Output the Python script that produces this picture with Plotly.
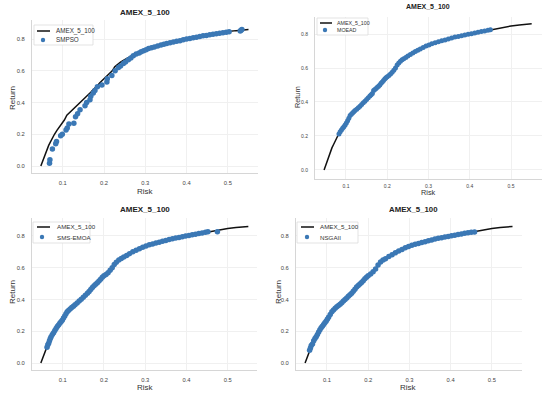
import plotly.graph_objects as go

# Efficient frontier (AMEX_5_100)
front_risk = [0.047,0.050,0.053,0.056,0.059,0.062,0.066,0.070,0.075,0.080,0.086,0.092,0.098,0.104,0.110,0.116,0.124,0.132,0.140,0.148,0.156,0.162,0.168,0.175,0.182,0.190,0.198,0.206,0.214,0.220,0.226,0.232,0.240,0.250,0.260,0.270,0.282,0.295,0.310,0.325,0.340,0.360,0.380,0.400,0.420,0.440,0.460,0.480,0.500,0.520,0.540,0.550]
front_ret = [0.0,0.02,0.04,0.07,0.09,0.11,0.13,0.15,0.18,0.20,0.225,0.245,0.265,0.29,0.32,0.335,0.355,0.37,0.39,0.41,0.43,0.445,0.465,0.485,0.50,0.525,0.545,0.56,0.58,0.60,0.625,0.64,0.655,0.67,0.685,0.70,0.715,0.73,0.745,0.755,0.765,0.78,0.79,0.80,0.81,0.82,0.83,0.84,0.847,0.853,0.858,0.86]

smpso_risk = [0.068,0.069,0.075,0.083,0.085,0.095,0.099,0.108,0.111,0.115,0.127,0.131,0.136,0.142,0.154,0.158,0.166,0.168,0.174,0.178,0.184,0.195,0.207,0.208,0.219,0.227,0.235,0.240,0.247,0.252,0.259,0.265,0.271,0.278,0.285,0.290,0.296,0.302,0.308,0.315,0.322,0.330,0.338,0.345,0.352,0.360,0.368,0.376,0.384,0.392,0.400,0.408,0.416,0.424,0.432,0.440,0.448,0.456,0.464,0.472,0.480,0.488,0.496,0.503,0.530,0.532,0.534]
smpso_ret = [0.017,0.04,0.107,0.14,0.154,0.19,0.20,0.227,0.24,0.265,0.27,0.31,0.33,0.354,0.38,0.40,0.417,0.44,0.46,0.476,0.50,0.51,0.53,0.55,0.57,0.60,0.62,0.63,0.646,0.655,0.67,0.68,0.695,0.705,0.712,0.72,0.727,0.733,0.74,0.745,0.75,0.756,0.762,0.767,0.772,0.777,0.782,0.786,0.79,0.795,0.80,0.804,0.808,0.812,0.816,0.82,0.823,0.827,0.83,0.833,0.837,0.84,0.843,0.846,0.85,0.855,0.86]

moead_risk = [0.083,0.086,0.089,0.092,0.095,0.098,0.101,0.104,0.107,0.110,0.113,0.116,0.119,0.122,0.126,0.130,0.134,0.138,0.142,0.146,0.150,0.154,0.158,0.161,0.164,0.167,0.170,0.173,0.176,0.179,0.182,0.185,0.188,0.191,0.194,0.197,0.200,0.204,0.208,0.212,0.216,0.220,0.224,0.228,0.232,0.236,0.240,0.245,0.250,0.256,0.262,0.268,0.274,0.280,0.287,0.294,0.301,0.308,0.316,0.324,0.332,0.340,0.348,0.356,0.364,0.372,0.380,0.388,0.396,0.404,0.412,0.420,0.428,0.436,0.444,0.450]
moead_ret = [0.212,0.225,0.235,0.245,0.255,0.265,0.277,0.29,0.305,0.32,0.328,0.335,0.343,0.35,0.358,0.366,0.375,0.385,0.395,0.405,0.415,0.425,0.435,0.443,0.45,0.468,0.474,0.48,0.487,0.493,0.50,0.51,0.518,0.527,0.535,0.542,0.549,0.556,0.564,0.575,0.587,0.60,0.617,0.629,0.64,0.648,0.655,0.662,0.67,0.679,0.688,0.697,0.705,0.712,0.721,0.729,0.736,0.743,0.749,0.754,0.76,0.765,0.771,0.777,0.782,0.786,0.79,0.794,0.798,0.802,0.806,0.81,0.814,0.818,0.822,0.825]

sms_risk = [0.062,0.064,0.066,0.068,0.070,0.072,0.075,0.078,0.081,0.084,0.087,0.090,0.093,0.096,0.099,0.102,0.105,0.108,0.111,0.114,0.118,0.122,0.126,0.130,0.135,0.140,0.145,0.150,0.155,0.160,0.164,0.168,0.172,0.176,0.180,0.184,0.188,0.192,0.196,0.200,0.205,0.210,0.215,0.220,0.225,0.230,0.236,0.242,0.248,0.255,0.262,0.270,0.278,0.286,0.294,0.302,0.310,0.318,0.326,0.334,0.342,0.350,0.358,0.366,0.374,0.382,0.390,0.398,0.406,0.414,0.422,0.430,0.438,0.446,0.452,0.475]
sms_ret = [0.10,0.115,0.125,0.14,0.155,0.165,0.18,0.19,0.205,0.218,0.23,0.24,0.25,0.26,0.27,0.283,0.296,0.31,0.322,0.33,0.34,0.35,0.358,0.367,0.378,0.39,0.402,0.414,0.427,0.44,0.451,0.463,0.476,0.487,0.496,0.506,0.517,0.528,0.54,0.549,0.558,0.568,0.584,0.60,0.62,0.635,0.648,0.658,0.667,0.677,0.688,0.70,0.71,0.72,0.729,0.737,0.744,0.75,0.756,0.761,0.767,0.772,0.778,0.783,0.787,0.791,0.795,0.799,0.803,0.807,0.811,0.815,0.819,0.823,0.826,0.826]

nsga_risk = [0.058,0.060,0.062,0.065,0.068,0.071,0.074,0.077,0.080,0.083,0.086,0.089,0.092,0.095,0.098,0.101,0.104,0.108,0.112,0.116,0.120,0.124,0.128,0.132,0.136,0.140,0.144,0.148,0.152,0.156,0.160,0.164,0.168,0.172,0.176,0.180,0.184,0.188,0.192,0.196,0.200,0.206,0.212,0.218,0.224,0.230,0.236,0.242,0.250,0.258,0.266,0.274,0.282,0.290,0.298,0.306,0.314,0.322,0.330,0.338,0.346,0.354,0.362,0.370,0.378,0.386,0.394,0.402,0.410,0.418,0.426,0.434,0.442,0.450,0.458]
nsga_ret = [0.08,0.095,0.11,0.12,0.14,0.155,0.165,0.18,0.195,0.21,0.222,0.232,0.243,0.253,0.263,0.275,0.288,0.305,0.322,0.334,0.345,0.354,0.362,0.37,0.38,0.39,0.40,0.41,0.42,0.43,0.44,0.452,0.465,0.478,0.488,0.497,0.507,0.518,0.53,0.54,0.549,0.56,0.574,0.592,0.617,0.636,0.648,0.657,0.67,0.682,0.694,0.705,0.715,0.725,0.733,0.741,0.748,0.753,0.758,0.764,0.77,0.775,0.781,0.785,0.789,0.793,0.797,0.801,0.805,0.809,0.813,0.817,0.82,0.823,0.825]

algo_names = ["SMPSO", "MOEAD", "SMS-EMOA", "NSGAII"]
algo_risk = [smpso_risk, moead_risk, sms_risk, nsga_risk]
algo_ret = [smpso_ret, moead_ret, sms_ret, nsga_ret]
title_text = "AMEX_5_100"
tick_vals_x = [0.1, 0.2, 0.3, 0.4, 0.5]
tick_vals_y = [0.0, 0.2, 0.4, 0.6, 0.8]

FONT = "Arial, Liberation Sans, sans-serif"
PT_COLOR = "#3b78b5"

W, H = 550, 395
def fx(px):
    return px / W
def fy(py):
    return 1 - py / H

# panel geometry in page pixels
panels = [
    dict(px=(32, 258, 20, 173), xr=(0.0256, 0.573), yr=(-0.044, 0.92),
         tf=8, af=8, kf=5.8, ms=5.5, xs=4,
         title=(145, 13), xlab=(145, 191), ylab=(12, 98),
         box=(34, 93, 25, 45), line=(37, 50, 31), mk=(43, 40), tx=54, t2y=40, lf=6.3),
    dict(px=(315, 542, 17, 179), xr=(0.025, 0.575), yr=(-0.053, 0.90),
         tf=7, af=7.3, kf=5, ms=5, xs=2,
         title=(428, 7), xlab=(428, 193), ylab=(298, 97),
         box=(317, 368, 18, 35), line=(320, 332, 23), mk=(325, 30), tx=335, t2y=30, lf=5.3),
    dict(px=(32, 257, 218, 370), xr=(0.0256, 0.571), yr=(-0.044, 0.913),
         tf=8, af=8, kf=5.8, ms=5.5, xs=4,
         title=(145, 209), xlab=(145, 387), ylab=(12, 292),
         box=(33, 90, 222, 243), line=(37, 50, 227), mk=(42, 237), tx=55, t2y=237, lf=6.2),
    dict(px=(296, 522, 218, 370), xr=(0.025, 0.573), yr=(-0.044, 0.913),
         tf=7.8, af=8, kf=5.8, ms=5.5, xs=4,
         title=(413, 209), xlab=(408, 387), ylab=(278, 292),
         box=(297, 358, 222, 243), line=(301, 314, 227), mk=(307, 237), tx=318, t2y=237, lf=6.2),
]

fig = go.Figure()
layout = dict(width=W, height=H, margin=dict(l=0, r=0, t=0, b=0), showlegend=False,
              paper_bgcolor="white", plot_bgcolor="white", annotations=[], shapes=[],
              hovermode=False)

def ann(text, x, y, size, bold=False, angle=0, xanchor="center", color="#333"):
    layout["annotations"].append(dict(
        text=("<b>%s</b>" % text) if bold else text, x=fx(x), y=fy(y),
        xref="paper", yref="paper", showarrow=False, textangle=angle,
        xanchor=xanchor, yanchor="middle",
        font=dict(family=FONT, size=size, color=color)))

for i, p in enumerate(panels):
    n = "" if i == 0 else str(i + 1)
    L, R, T, B = p["px"]
    fig.add_trace(go.Scatter(x=front_risk, y=front_ret, mode="lines", name=title_text,
                             line=dict(color="#111111", width=1.5), xaxis="x" + n, yaxis="y" + n))
    fig.add_trace(go.Scatter(x=algo_risk[i], y=algo_ret[i], mode="markers", name=algo_names[i],
                             marker=dict(color=PT_COLOR, size=p["ms"], line=dict(width=0)),
                             xaxis="x" + n, yaxis="y" + n))
    axstyle = dict(showgrid=True, gridcolor="#f0f0f0", gridwidth=1, zeroline=False,
                   showline=True, linecolor="#d6d6d6", linewidth=1, ticks="",
                   tickfont=dict(family=FONT, size=p["kf"], color="#444"))
    layout["xaxis" + n] = dict(axstyle, domain=[fx(L), fx(R)], range=list(p["xr"]),
                               tickvals=tick_vals_x, anchor="y" + n, ticklabelstandoff=p["xs"])
    layout["yaxis" + n] = dict(axstyle, domain=[fy(B), fy(T)], range=list(p["yr"]),
                               tickvals=tick_vals_y, tickformat=".1f", anchor="x" + n,
                               ticklabelstandoff=5)
    ann(title_text, p["title"][0], p["title"][1], p["tf"], bold=True, color="#222")
    ann("Risk", p["xlab"][0], p["xlab"][1], p["af"])
    ann("Return", p["ylab"][0], p["ylab"][1], p["af"], angle=-90)
    # legend box
    bx0, bx1, by0, by1 = p["box"]
    layout["shapes"].append(dict(type="rect", xref="paper", yref="paper",
                                 x0=fx(bx0), x1=fx(bx1), y0=fy(by1), y1=fy(by0),
                                 line=dict(color="#dcdcdc", width=0.8), fillcolor="white", layer="above"))
    lx0, lx1, ly = p["line"]
    layout["shapes"].append(dict(type="line", xref="paper", yref="paper",
                                 x0=fx(lx0), x1=fx(lx1), y0=fy(ly), y1=fy(ly),
                                 line=dict(color="#111111", width=1.5), layer="above"))
    mx, my = p["mk"]
    r = 2.2
    layout["shapes"].append(dict(type="circle", xref="paper", yref="paper",
                                 x0=fx(mx - r), x1=fx(mx + r), y0=fy(my + r), y1=fy(my - r),
                                 line=dict(width=0), fillcolor=PT_COLOR, layer="above"))
    ann(title_text, p["tx"], ly, p["lf"], xanchor="left")
    ann(algo_names[i], p["tx"], p["t2y"], p["lf"], xanchor="left")

fig.update_layout(**layout)
fig.write_html("out.html", config={"displayModeBar": False},
               post_script="document.body.style.margin='0';")
